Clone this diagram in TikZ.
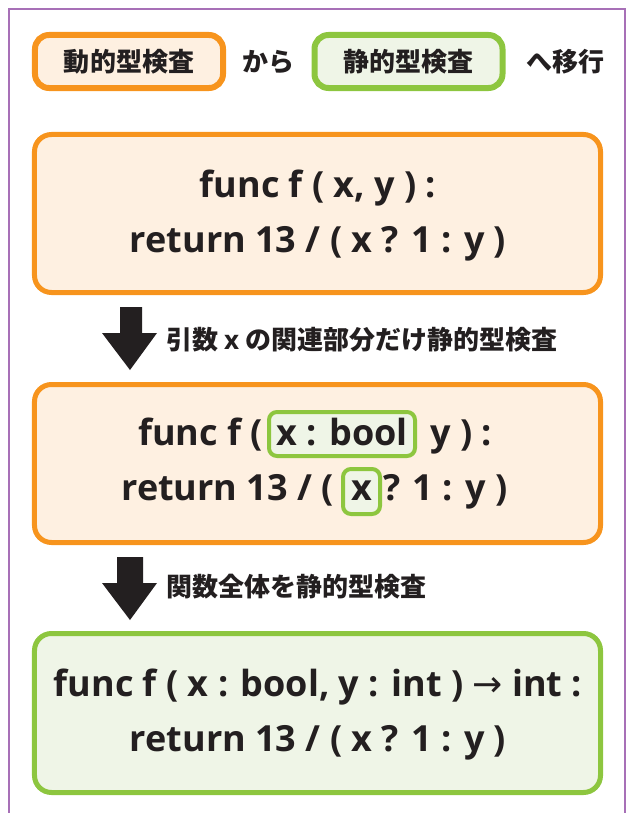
\documentclass[tikz,border=0pt]{standalone}
\usepackage{fontspec}
\newfontfamily\codefont{Open Sans}
\newfontfamily\jpfont{Noto Sans CJK JP}
\newfontfamily\arrowfont{DejaVu Sans}
\definecolor{orangeline}{RGB}{247,148,29}
\definecolor{orangefill}{RGB}{254,240,225}
\definecolor{greenline}{RGB}{141,198,63}
\definecolor{greenfill}{RGB}{239,245,231}
\definecolor{framepurple}{RGB}{167,112,183}
\definecolor{ink}{RGB}{35,31,32}
\tikzset{
  code/.style={inner sep=0pt, text=ink, font=\codefont\bfseries\fontsize{36bp}{42bp}\selectfont},
  jp/.style={inner sep=0pt, text=ink, font=\jpfont\bfseries\fontsize{26bp}{30bp}\selectfont},
  tagorange/.style={jp, draw=orangeline, fill=orangefill, line width=6bp, rounded corners=14bp,
    minimum width=188bp, minimum height=53bp},
  taggreen/.style={tagorange, draw=greenline, fill=greenfill},
  bigbox/.style={draw=orangeline, fill=orangefill, line width=5bp, rounded corners=17bp},
  bigboxgreen/.style={bigbox, draw=greenline, fill=greenfill},
  hl/.style={code, draw=greenline, fill=greenfill, line width=4bp, rounded corners=8bp},
  blockarrow/.style={fill=ink}
}
\begin{document}
\begin{tikzpicture}[x=1bp, y=-1bp]
  \useasboundingbox (0,0) rectangle (627,813);
  % open purple frame
  \draw[framepurple, line width=2bp] (9,813) -- (9,9) -- (625,9) -- (625,813);

  % heading row
  \node[tagorange] (dyn) at (129,61.5) {動的型検査};
  \node[jp] (kara) at (268,62) {から};
  \node[taggreen] (stat) at (408.5,61.5) {静的型検査};
  \node[jp] (ikou) at (565,62) {へ移行};

  % step 1: untyped function
  \node[bigbox, minimum width=566bp, minimum height=158bp] (box1) at (317.5,213.5) {};
  \node[code, anchor=base] (b1a) at (318,197) {func f ( x, y ) :};
  \node[code, anchor=base] (b1b) at (318,252) {return 13 / ( x ? 1 : y )};

  % arrow 1
  \fill[blockarrow] (120,307) -- (142,307) -- (142,333) -- (157,333) -- (130,370)
    -- (102,333) -- (120,333) -- cycle;
  \node[jp, anchor=west] (lab1) at (166,340) {引数 {\codefont\bfseries x} の関連部分だけ静的型検査};

  % step 2: partially typed
  \node[bigbox, minimum width=566bp, minimum height=158bp] (box2) at (317.5,463.5) {};
  \node[hl, anchor=base, text height=33bp, text depth=11bp, minimum width=146bp] (hx1) at (342,445) {x : bool};
  \node[code, anchor=base east] (b2a) at (263,445) {func f (};
  \node[code, anchor=base west] (b2b) at (430,445) {y ) :};
  \node[hl, anchor=base, text height=31bp, text depth=14bp, minimum width=37bp] (hx2) at (361.5,500) {x};
  \node[code, anchor=base east] (b2c) at (334,500) {return 13 / (};
  \node[code, anchor=base west] (b2d) at (383,500) {? 1 : y )};

  % arrow 2
  \fill[blockarrow] (117,557) -- (143,557) -- (143,583) -- (157,583) -- (130,620)
    -- (102,583) -- (117,583) -- cycle;
  \node[jp, anchor=west] (lab2) at (166,587) {関数全体を静的型検査};

  % step 3: fully typed
  \node[bigboxgreen, minimum width=566bp, minimum height=159bp] (box3) at (317.5,713) {};
  \node[code, anchor=base] (b3a) at (318,696) {func f ( x : bool, y : int ) {\arrowfont\mdseries →} int :};
  \node[code, anchor=base] (b3b) at (318,751) {return 13 / ( x ? 1 : y )};
\end{tikzpicture}
\end{document}
